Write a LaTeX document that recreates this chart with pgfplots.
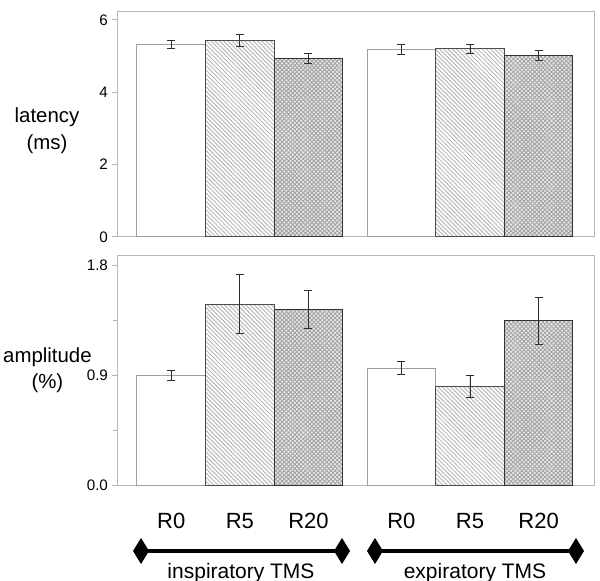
\documentclass[border=0pt]{standalone}
\usepackage{pgfplots}
\pgfplotsset{compat=1.18}
\usepackage{fontspec}
\setmainfont{Liberation Sans}
\usetikzlibrary{patterns.meta,arrows.meta}

\pgfplotsset{
  common/.style={
    scale only axis, width=238.5pt, anchor=south west,
    xmin=-0.79, xmax=6.16, ymin=0,
    axis line style={gray!55, line width=0.5pt},
    ybar, bar width=1, bar shift=0pt,
    tick align=outside, major tick length=2.5pt, minor tick length=2pt,
    ytick pos=left, ytick style={gray!60, line width=0.5pt},
    /pgf/number format/assume math mode=true,
    yticklabel style={font=\fontsize{7.6}{9}\selectfont, xshift=1.5pt},
    xtick style={draw=none},
    error bars/y dir=both, error bars/y explicit,
    error bars/error bar style={gray!35!black, line width=0.45pt},
    error bars/error mark options={rotate=90, mark size=2pt, gray!35!black, line width=0.45pt},
  },
  rzero/.style={fill=white, draw=gray!75, line width=0.5pt},
  rfive/.style={draw=gray!60!black, line width=0.5pt, fill=white,
    postaction={pattern={Lines[angle=-45,distance=1.5pt,line width=0.5pt]}, pattern color=gray!55}},
  rtwenty/.style={draw=gray!40!black, line width=0.5pt, fill=gray!15,
    postaction={pattern={Hatch[angle=45,distance=1.5pt,line width=0.5pt]}, pattern color=gray!70}},
}

\begin{document}
\begin{tikzpicture}
\useasboundingbox (0,0) rectangle (300pt,-290.5pt);

% top panel: latency
\begin{axis}[common, at={(58.5pt,-118.5pt)}, height=112.5pt, ymax=6.22,
  ytick={0,2,4,6}, xtick=\empty]
\addplot[rzero] coordinates {(0,5.32) +- (0,0.11) (3.353,5.18) +- (0,0.14)};
\addplot[rfive] coordinates {(1,5.43) +- (0,0.16) (4.353,5.20) +- (0,0.12)};
\addplot[rtwenty] coordinates {(2,4.93) +- (0,0.14) (5.353,5.02) +- (0,0.13)};
\end{axis}

% bottom panel: amplitude
\begin{axis}[common, at={(58.5pt,-242.65pt)}, height=115pt, ymax=1.88,
  ytick={0,0.9,1.8}, minor ytick={0.45,1.35},
  yticklabel style={/pgf/number format/fixed, /pgf/number format/fixed zerofill, /pgf/number format/precision=1},
  xtick={0,1,2,3.353,4.353,5.353},
  xticklabels={R0,R5,R20,R0,R5,R20},
  xticklabel style={font=\fontsize{11}{13}\selectfont, anchor=base, yshift=-19pt}]
\addplot[rzero] coordinates {(0,0.90) +- (0,0.04) (3.353,0.957) +- (0,0.055)};
\addplot[rfive] coordinates {(1,1.48) +- (0,0.24) (4.353,0.807) +- (0,0.09)};
\addplot[rtwenty] coordinates {(2,1.44) +- (0,0.155) (5.353,1.344) +- (0,0.19)};
\end{axis}

\node[align=center, font=\fontsize{10.2}{13.5}\selectfont] at (23.5pt,-65.5pt) {latency\\(ms)};
\node[align=center, font=\fontsize{10.2}{13}\selectfont] at (23.7pt,-185pt) {amplitude\\(\%)};

\draw[line width=2.3pt, {Diamond[length=8pt,width=13pt]}-{Diamond[length=8pt,width=13pt]}] (66.5pt,-275.5pt) -- (175pt,-275.5pt);
\draw[line width=2.3pt, {Diamond[length=8pt,width=13pt]}-{Diamond[length=8pt,width=13pt]}] (183.5pt,-275.5pt) -- (292pt,-275.5pt);
\node[font=\fontsize{10.5}{12}\selectfont] at (120.5pt,-286.5pt) {inspiratory TMS};
\node[font=\fontsize{10.5}{12}\selectfont] at (237.5pt,-286.5pt) {expiratory TMS};
\end{tikzpicture}
\end{document}
